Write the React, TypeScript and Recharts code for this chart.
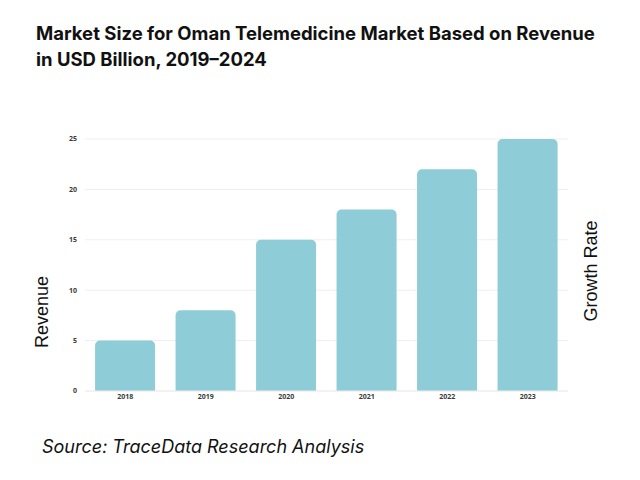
import React from "react";
import { BarChart, Bar, XAxis, YAxis, CartesianGrid } from "recharts";

const years = ["2018", "2019", "2020", "2021", "2022", "2023"];
const revenue = [5, 8, 15, 18, 22, 25];
const yTicks = [0, 5, 10, 15, 20, 25];

const data = years.map((y, i) => ({ year: y, revenue: revenue[i] }));

const tickStyle = { fontSize: 7, fontWeight: 700, fill: "#3a3a3a", fontFamily: "Open Sans" };

export default function App() {
  return (
    <div style={{ position: "absolute", left: 0, top: 0, width: 640, height: 480, background: "#fff" }}>
      <div
        style={{
          position: "absolute",
          left: 36,
          top: 20,
          width: 600,
          fontFamily: "Inter",
          fontWeight: 700,
          fontSize: 18.5,
          lineHeight: "26px",
          color: "#111",
        }}
      >
        Market Size for Oman Telemedicine Market Based on Revenue
        <br />
        in USD Billion, 2019–2024
      </div>
      <BarChart
        width={640}
        height={480}
        data={data}
        margin={{ top: 139, right: 72, bottom: 69, left: 45 }}
        barCategoryGap="12.5%"
      >
        <CartesianGrid vertical={false} stroke="#eee" />
        <XAxis
          dataKey="year"
          tick={tickStyle}
          tickLine={false}
          tickSize={0}
          tickMargin={3}
          axisLine={{ stroke: "#eee" }}
          height={20}
        />
        <YAxis
          ticks={yTicks}
          domain={[0, 25]}
          tick={tickStyle}
          tickLine={false}
          axisLine={false}
          width={40}
        />
        <Bar dataKey="revenue" fill="#8ECCD8" radius={[5, 5, 0, 0]} isAnimationActive={false} />
      </BarChart>
      <div
        style={{
          position: "absolute",
          left: 42,
          top: 312,
          transform: "translate(-50%, -50%) rotate(-90deg)",
          fontFamily: "Liberation Sans",
          fontSize: 18,
          color: "#111",
          whiteSpace: "nowrap",
        }}
      >
        Revenue
      </div>
      <div
        style={{
          position: "absolute",
          left: 591,
          top: 271,
          transform: "translate(-50%, -50%) rotate(-90deg)",
          fontFamily: "Liberation Sans",
          fontSize: 18,
          color: "#111",
          whiteSpace: "nowrap",
        }}
      >
        Growth Rate
      </div>
      <div
        style={{
          position: "absolute",
          left: 42,
          top: 436,
          fontFamily: "Inter",
          fontStyle: "italic",
          fontSize: 18,
          color: "#111",
          whiteSpace: "nowrap",
        }}
      >
        Source: TraceData Research Analysis
      </div>
    </div>
  );
}
